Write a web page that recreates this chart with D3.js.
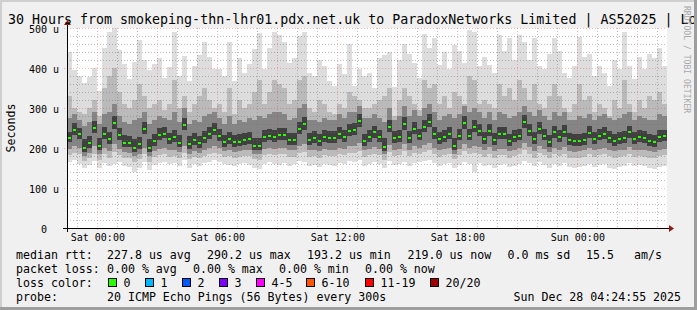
<!DOCTYPE html>
<html>
<head>
<meta charset="utf-8">
<script src="https://cdn.jsdelivr.net/npm/d3@7"></script>
<style>
  html, body { margin: 0; padding: 0; background: #f0f0f0; }
  svg { display: block; }
  text { font-family: "DejaVu Sans Mono", monospace; fill: #000; white-space: pre; }
</style>
</head>
<body>
<svg id="chart" width="697" height="310"></svg>
<script>
// 30 hours, one column every 15 minutes (values in microseconds)
const startTime = Date.UTC(2025, 11, 26, 22, 29);
const stepMinutes = 15;

const medians = [
  225,245,235,200,212,250,205,235,222,262,233,213,213,200,210,248,200,218,233,236,222,227,213,258,210,220,212,225,235,245,
  230,214,222,214,216,220,222,206,206,227,231,227,233,233,220,220,247,260,220,224,218,227,225,224,235,228,242,245,267,218,
  227,239,227,203,253,225,227,260,225,247,231,252,266,235,222,227,235,206,231,262,231,252,242,222,242,220,235,235,218,228,
  231,264,243,222,247,231,214,239,227,241,220,218,218,220,237,222,231,235,225,218,222,225,239,223,227,225,218,214,228,229
];
const pingMin = [
  165,170,160,150,158,168,150,162,155,160,165,155,152,140,150,165,145,158,162,166,160,162,155,170,150,160,155,162,166,170,
  165,160,158,156,160,162,158,150,148,160,166,160,158,162,156,160,168,165,155,158,152,160,158,156,162,160,168,165,170,156,
  160,166,160,150,168,158,160,165,155,162,166,168,170,162,155,160,162,150,158,166,160,140,162,155,158,150,158,160,152,156,
  160,168,162,155,165,158,150,160,155,162,152,150,152,156,160,152,158,160,150,148,152,155,162,155,158,156,150,148,152,155
];
const ping10 = [
  182,188,184,168,175,186,170,184,176,190,182,176,174,166,172,184,166,178,182,184,178,180,176,188,172,178,174,180,184,188,
  184,178,180,176,178,180,180,172,170,182,184,182,184,184,178,178,188,190,178,180,176,182,180,180,184,182,188,188,192,178,
  182,186,182,170,190,180,182,192,180,188,184,190,194,184,178,182,184,172,182,192,184,188,186,178,186,176,182,182,176,180,
  184,194,186,176,188,182,174,184,180,186,176,176,176,178,184,178,182,184,180,176,178,180,186,178,180,178,176,174,180,182
];
const ping25 = [
  198,205,200,180,188,205,184,200,192,210,198,190,188,180,186,200,180,192,198,200,194,196,190,205,186,192,188,196,200,205,
  200,192,196,190,192,194,196,186,184,198,200,198,200,200,194,194,205,210,194,196,192,198,196,196,200,198,205,205,212,194,
  198,202,198,184,208,196,198,210,196,205,200,208,212,200,194,198,200,186,198,210,200,205,202,194,202,192,198,198,192,196,
  200,212,202,192,205,198,190,200,196,202,192,190,192,194,200,194,198,200,196,192,194,196,202,194,196,194,192,190,196,198
];
const ping40 = [
  215,232,222,190,200,238,195,222,210,248,220,202,202,190,198,235,190,206,220,224,210,215,202,244,198,208,200,213,222,232,
  218,203,210,203,205,208,210,196,195,215,219,215,221,221,208,208,234,246,208,212,206,215,213,212,223,216,230,232,252,206,
  215,226,215,193,240,213,215,246,213,234,219,239,252,222,210,215,222,196,219,248,219,239,230,210,230,208,222,222,206,216,
  219,250,230,210,234,219,203,226,215,228,208,206,206,208,224,210,219,222,213,206,210,213,226,211,215,213,206,203,216,217
];
const ping60 = [
  240,262,250,222,230,268,225,252,240,280,250,232,230,222,228,265,222,236,250,252,238,245,232,275,230,238,230,242,252,262,
  248,232,240,232,235,238,240,226,225,245,248,245,250,250,238,238,265,278,238,242,236,245,242,242,252,246,260,262,285,236,
  245,256,245,225,270,242,245,278,242,265,248,270,284,252,240,245,252,226,248,280,248,270,260,240,260,238,252,252,236,245,
  248,282,260,240,265,248,232,256,245,258,238,236,236,238,255,240,248,252,242,236,240,242,256,240,245,242,236,232,246,246
];
const ping75 = [
  275,285,270,255,265,290,260,285,290,310,280,265,260,270,275,290,260,270,280,275,270,290,265,300,260,270,265,280,285,290,
  275,260,280,260,270,265,275,270,280,275,285,290,290,285,270,275,300,310,270,270,265,275,270,270,285,275,290,290,305,275,
  275,285,275,265,300,270,280,305,280,295,280,300,310,290,270,280,285,275,285,305,290,300,290,275,290,270,290,285,275,280,
  290,305,290,280,295,280,270,290,280,290,270,270,280,275,285,270,280,285,275,270,275,285,290,270,280,275,270,270,285,280
];
const ping90 = [
  330,300,290,285,300,320,280,350,380,400,340,310,300,320,360,330,300,310,320,295,310,370,300,330,290,310,330,350,320,300,
  310,290,350,285,320,300,310,340,370,310,340,370,360,350,310,320,370,380,300,290,320,310,290,285,310,300,340,330,320,300,
  300,310,320,330,350,280,320,350,330,310,295,370,350,360,310,330,300,340,330,310,380,370,310,320,310,300,360,330,350,320,
  370,350,320,360,310,300,330,360,330,300,290,310,360,320,330,290,310,300,280,320,300,370,310,290,320,300,330,320,340,310
];
const pingMax = [
  440,395,380,362,378,400,343,450,490,500,445,410,372,415,470,420,395,410,425,376,402,490,380,430,368,404,432,465,428,398,
  398,380,465,368,425,388,410,448,488,398,450,490,482,466,412,425,480,490,388,380,420,405,368,356,410,385,460,356,398,380,
  388,350,425,432,440,352,420,460,435,412,376,485,450,475,408,440,398,458,442,412,495,490,404,428,408,388,482,442,475,420,
  482,466,420,475,404,398,435,475,442,388,376,404,478,428,435,380,404,388,356,420,398,490,404,372,428,398,435,425,450,404
];

const yTicks = [0, 100, 200, 300, 400, 500];
const titleText = "30 Hours from smokeping-thn-lhr01.pdx.net.uk to ParadoxNetworks Limited | AS52025 | Lo";
const rttStats = ["227.8 us avg", "290.2 us max", "193.2 us min", "219.0 us now", "0.0 ms sd", "15.5", "am/s"];
const lossStats = ["0.00 % avg", "0.00 % max", "0.00 % min", "0.00 % now"];
const lossLabels = ["0", "1", "2", "3", "4-5", "6-10", "11-19", "20/20"];
const lossColors = ["#26ff00", "#00b8ff", "#0059ff", "#7e00ff", "#ff00ff", "#ff5500", "#ff0000", "#a10000"];
const probeText = "20 ICMP Echo Pings (56 Bytes) every 300s";
const stampText = "Sun Dec 28 04:24:55 2025";

const svg = d3.select("#chart");
const W = 697, H = 310;
const plotL = 67, plotR = 667, plotT = 28, plotB = 228;

const times = medians.map((d, i) => new Date(startTime + i * stepMinutes * 60000));
const endTime = new Date(startTime + medians.length * stepMinutes * 60000);

const x = d3.scaleUtc().domain([new Date(startTime), endTime]).range([plotL, plotR]);
const y = d3.scaleLinear().domain([0, 500]).range([plotB, plotT]);

svg.append("rect").attr("width", W).attr("height", H).attr("fill", "#f0f0f0");
svg.append("rect")
  .attr("x", plotL).attr("y", plotT)
  .attr("width", plotR - plotL).attr("height", plotB - plotT)
  .attr("fill", "#ffffff");

// smoke: outer band is lightest, inner bands darker
const bands = [
  { lo: pingMin, hi: pingMax, color: "#dddddd" },
  { lo: ping10, hi: ping90, color: "#bababa" },
  { lo: ping25, hi: ping75, color: "#858585" },
  { lo: ping40, hi: ping60, color: "#404040" }
];
const colW = x(times[1]) - x(times[0]);

bands.forEach(b => {
  svg.append("g")
    .selectAll("rect")
    .data(times)
    .enter()
    .append("rect")
    .attr("x", (d) => x(d))
    .attr("width", colW)
    .attr("y", (d, i) => y(b.hi[i]))
    .attr("height", (d, i) => y(b.lo[i]) - y(b.hi[i]))
    .attr("fill", b.color)
    .attr("shape-rendering", "crispEdges");
});

// median marks
svg.append("g")
  .selectAll("rect")
  .data(times)
  .enter()
  .append("rect")
  .attr("x", (d) => x(d) + 1)
  .attr("width", colW - 2)
  .attr("y", (d, i) => Math.round(y(medians[i])) - 1)
  .attr("height", 2)
  .attr("fill", lossColors[0])
  .attr("shape-rendering", "crispEdges");

// grid (drawn on top, like rrdtool)
const grid = svg.append("g").attr("shape-rendering", "crispEdges");
const minorCol = "rgba(110,110,110,0.45)";
const majorCol = "rgba(240,40,40,0.32)";
const hours = d3.utcHour.every(1).range(new Date(startTime), endTime);
hours.forEach(h => {
  const major = h.getUTCHours() % 3 === 0;
  grid.append("line")
    .attr("x1", Math.round(x(h)) + 0.5).attr("x2", Math.round(x(h)) + 0.5)
    .attr("y1", plotT).attr("y2", major ? plotB + 4 : plotB)
    .attr("stroke", major ? majorCol : minorCol)
    .attr("stroke-dasharray", "1,2");
});
d3.range(20, 501, 20).forEach(v => {
  const major = v % 100 === 0;
  grid.append("line")
    .attr("x1", plotL - (major ? 3 : 0)).attr("x2", plotR)
    .attr("y1", Math.round(y(v)) + 0.5).attr("y2", Math.round(y(v)) + 0.5)
    .attr("stroke", major ? majorCol : minorCol)
    .attr("stroke-dasharray", "1,2");
});

// axes lines + arrows
svg.append("line")
  .attr("x1", plotL - 4).attr("x2", plotR + 2)
  .attr("y1", plotB + 0.5).attr("y2", plotB + 0.5)
  .attr("stroke", "#000").attr("shape-rendering", "crispEdges");
svg.append("line")
  .attr("x1", plotL + 0.5).attr("x2", plotL + 0.5)
  .attr("y1", plotB + 4).attr("y2", plotT - 4)
  .attr("stroke", "#000").attr("shape-rendering", "crispEdges");
svg.append("path")
  .attr("d", `M${plotR + 2},${plotB - 3} L${plotR + 7},${plotB + 0.5} L${plotR + 2},${plotB + 4} Z`)
  .attr("fill", "#8c1c1c");
svg.append("path")
  .attr("d", `M${plotL - 3},${plotT - 3} L${plotL + 0.5},${plotT - 8} L${plotL + 4},${plotT - 3} Z`)
  .attr("fill", "#8c1c1c");

// y labels
const yAxis = svg.append("g")
  .attr("transform", `translate(${plotL},0)`)
  .call(d3.axisLeft(y).tickValues(yTicks).tickSize(0).tickPadding(8)
    .tickFormat(d => d === 0 ? "0  " : d + " u"));
yAxis.select(".domain").remove();
yAxis.selectAll("text")
  .attr("dy", "0.45em")
  .style("font-family", '"DejaVu Sans Mono", monospace')
  .style("font-size", "10px")
  .attr("fill", "#000");

// x labels
const xAxis = svg.append("g")
  .attr("transform", `translate(0,${plotB})`)
  .call(d3.axisBottom(x).ticks(d3.utcHour.every(6)).tickSize(0)
    .tickFormat(d3.utcFormat("%a %H:%M")));
xAxis.select(".domain").remove();
xAxis.selectAll("text")
  .attr("y", 12.5).attr("dy", 0)
  .style("font-family", '"DejaVu Sans Mono", monospace')
  .style("font-size", "10px")
  .attr("fill", "#000");

// title + side labels
svg.append("text").attr("x", 8).attr("y", 23.5)
  .style("font-size", "13.3px").text(titleText);
svg.append("text")
  .attr("transform", "translate(14.5,128) rotate(-90)")
  .attr("text-anchor", "middle")
  .style("font-size", "11.6px").text("Seconds");
svg.append("text")
  .attr("transform", "translate(684,6) rotate(90)")
  .style("font-size", "8.1px").style("fill", "#a8a8a8")
  .text("RRDTOOL / TOBI OETIKER");

// legend
const lg = svg.append("g").style("font-size", "11.6px");
const rows = [258.5, 272.5, 286.5, 300.5];
lg.append("text").attr("x", 16).attr("y", rows[0]).text("median rtt:");
const rttX = [107, 207, 307, 407.5, 507.5, 586, 634];
rttStats.forEach((t, i) => lg.append("text").attr("x", rttX[i]).attr("y", rows[0]).text(t));

lg.append("text").attr("x", 16).attr("y", rows[1]).text("packet loss:");
const lossX = [107, 193, 279, 365];
lossStats.forEach((t, i) => lg.append("text").attr("x", lossX[i]).attr("y", rows[1]).text(t));

lg.append("text").attr("x", 16).attr("y", rows[2]).text("loss color:");
const boxX = [108.5, 145.5, 182.5, 219.5, 256.5, 306.5, 365.5, 430.5];
lossLabels.forEach((t, i) => {
  lg.append("rect")
    .attr("x", boxX[i]).attr("y", 278.5)
    .attr("width", 8).attr("height", 8)
    .attr("fill", lossColors[i]).attr("stroke", "#000");
  lg.append("text").attr("x", boxX[i] + 15).attr("y", rows[2]).text(t);
});

lg.append("text").attr("x", 16).attr("y", rows[3]).text("probe:");
lg.append("text").attr("x", 107).attr("y", rows[3]).text(probeText);
lg.append("text").attr("x", 513.5).attr("y", rows[3]).text(stampText);

// frame
svg.append("rect").attr("x", 0).attr("y", 0).attr("width", W).attr("height", 2).attr("fill", "#cfcfcf");
svg.append("rect").attr("x", 0).attr("y", 0).attr("width", 2).attr("height", H).attr("fill", "#cfcfcf");
svg.append("rect").attr("x", W - 3).attr("y", 0).attr("width", 3).attr("height", H).attr("fill", "#9e9e9e");
svg.append("rect").attr("x", 0).attr("y", H - 3).attr("width", W).attr("height", 3).attr("fill", "#9e9e9e");
</script>
</body>
</html>
